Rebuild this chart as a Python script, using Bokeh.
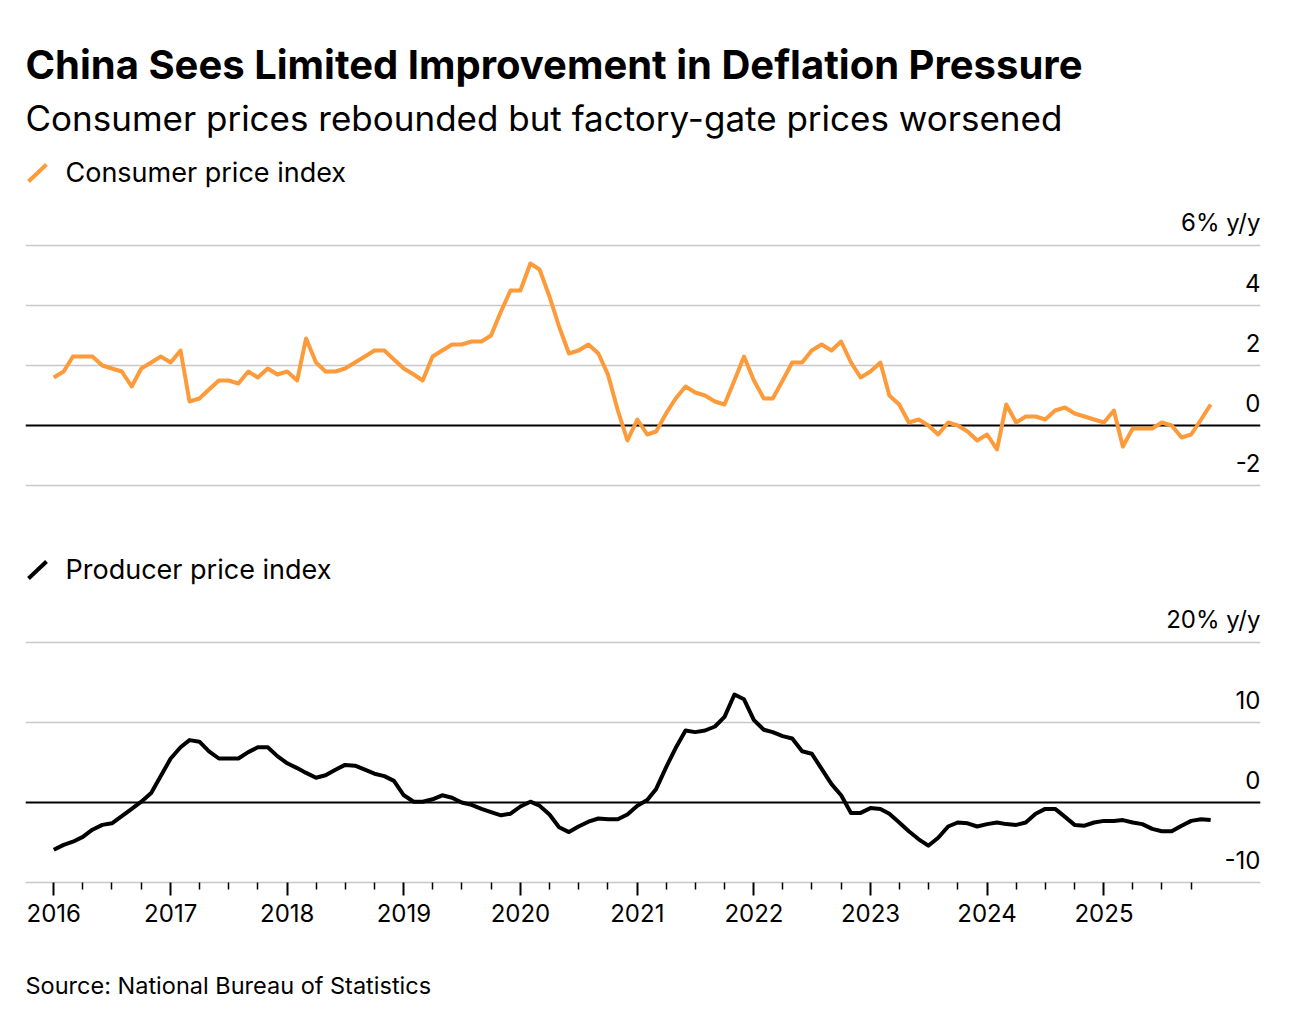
import pandas as pd
from bokeh.plotting import figure
from bokeh.models import (Range1d, FixedTicker, Grid, Label, PolyAnnotation,
                          DatetimeTickFormatter, ColumnDataSource)
from bokeh.layouts import column
from bokeh.embed import file_html
from bokeh.resources import INLINE
from bokeh.core.properties import value

# ---------------- data ----------------
months = pd.period_range("2015-12", "2025-11", freq="M")

cpi = [1.6,
       1.8, 2.3, 2.3, 2.3, 2.0, 1.9, 1.8, 1.3, 1.9, 2.1, 2.3, 2.1,
       2.5, 0.8, 0.9, 1.2, 1.5, 1.5, 1.4, 1.8, 1.6, 1.9, 1.7, 1.8,
       1.5, 2.9, 2.1, 1.8, 1.8, 1.9, 2.1, 2.3, 2.5, 2.5, 2.2, 1.9,
       1.7, 1.5, 2.3, 2.5, 2.7, 2.7, 2.8, 2.8, 3.0, 3.8, 4.5, 4.5,
       5.4, 5.2, 4.3, 3.3, 2.4, 2.5, 2.7, 2.4, 1.7, 0.5, -0.5, 0.2,
       -0.3, -0.2, 0.4, 0.9, 1.3, 1.1, 1.0, 0.8, 0.7, 1.5, 2.3, 1.5,
       0.9, 0.9, 1.5, 2.1, 2.1, 2.5, 2.7, 2.5, 2.8, 2.1, 1.6, 1.8,
       2.1, 1.0, 0.7, 0.1, 0.2, 0.0, -0.3, 0.1, 0.0, -0.2, -0.5, -0.3,
       -0.8, 0.7, 0.1, 0.3, 0.3, 0.2, 0.5, 0.6, 0.4, 0.3, 0.2, 0.1,
       0.5, -0.7, -0.1, -0.1, -0.1, 0.1, 0.0, -0.4, -0.3, 0.2, 0.7]

ppi = [-5.9,
       -5.3, -4.9, -4.3, -3.4, -2.8, -2.6, -1.7, -0.8, 0.1, 1.2, 3.3, 5.5,
       6.9, 7.8, 7.6, 6.4, 5.5, 5.5, 5.5, 6.3, 6.9, 6.9, 5.8, 4.9,
       4.3, 3.7, 3.1, 3.4, 4.1, 4.7, 4.6, 4.1, 3.6, 3.3, 2.7, 0.9,
       0.1, 0.1, 0.4, 0.9, 0.6, 0.0, -0.3, -0.8, -1.2, -1.6, -1.4, -0.5,
       0.1, -0.4, -1.5, -3.1, -3.7, -3.0, -2.4, -2.0, -2.1, -2.1, -1.5, -0.4,
       0.3, 1.7, 4.4, 6.8, 9.0, 8.8, 9.0, 9.5, 10.7, 13.5, 12.9, 10.3,
       9.1, 8.8, 8.3, 8.0, 6.4, 6.1, 4.2, 2.3, 0.9, -1.3, -1.3, -0.7,
       -0.8, -1.4, -2.5, -3.6, -4.6, -5.4, -4.4, -3.0, -2.5, -2.6, -3.0, -2.7,
       -2.5, -2.7, -2.8, -2.5, -1.4, -0.8, -0.8, -1.8, -2.8, -2.9, -2.5, -2.3,
       -2.3, -2.2, -2.5, -2.7, -3.3, -3.6, -3.6, -2.9, -2.3, -2.1, -2.2]

cpi_ticks = [6, 4, 2, 0, -2]
cpi_tick_labels = ["6% y/y", "4", "2", "0", "-2"]
ppi_ticks = [20, 10, 0, -10]
ppi_tick_labels = ["20% y/y", "10", "0", "-10"]
year_ticks = list(range(2016, 2026))
quarter_months = [4, 7, 10]

title_text = "China Sees Limited Improvement in Deflation Pressure"
subtitle_text = "Consumer prices rebounded but factory-gate prices worsened"
cpi_name = "Consumer price index"
ppi_name = "Producer price index"
source_text = "Source: National Bureau of Statistics"

# ---------------- styling ----------------
FONT = "Inter"
ORANGE = "#fd9a3a"
GRID = "#c8c8c8"
W = 1300
TOP_H = 530
BOT_H = 410
SRC_H = 72

EPOCH = pd.Timestamp("1970-01-01")


def to_ms(ts):
    return (ts - EPOCH) // pd.Timedelta(milliseconds=1)


x_dates = months.to_timestamp(how="end")
x_start = pd.Timestamp("2015-10-04 12:00")
x_end = pd.Timestamp("2026-05-06")

src = ColumnDataSource(dict(x=x_dates, cpi=cpi, ppi=ppi))


def make_fig(h, y0, y1, bottom_border, axis_loc):
    p = figure(width=W, height=h, x_axis_type="datetime",
               x_range=Range1d(x_start, x_end), y_range=Range1d(y0, y1),
               x_axis_location=axis_loc, y_axis_location=None,
               toolbar_location=None, output_backend="svg",
               min_border_left=25, min_border_right=40,
               min_border_top=0, min_border_bottom=bottom_border)
    p.outline_line_color = None
    p.background_fill_color = "white"
    p.border_fill_color = "white"
    p.grid.visible = False
    return p


def add_grid(p, ticks):
    p.add_layout(Grid(dimension=1, ticker=FixedTicker(ticks=[t for t in ticks if t != 0]),
                      grid_line_color=GRID, grid_line_width=1.5))
    p.add_layout(Grid(dimension=1, ticker=FixedTicker(ticks=[t for t in ticks if t == 0]),
                      grid_line_color="black", grid_line_width=2))


def add_tick_labels(p, ticks, labels, off):
    p.text(x=[x_end] * len(ticks), y=ticks, text=labels,
           text_align="right", text_baseline="middle", y_offset=off,
           text_font=value(FONT), text_font_size="24px", text_color="black")


def add_legend(p, y_mid, y_mark, name, color):
    p.add_layout(PolyAnnotation(xs=[3, 21], ys=[y_mark, y_mark + 17],
                                xs_units="screen", ys_units="screen",
                                line_color=color, line_alpha=1.0, line_width=4,
                                fill_alpha=0, line_cap="butt"))
    p.add_layout(Label(x=40, y=y_mid, x_units="screen", y_units="screen",
                       text=name, text_font=FONT, text_font_size="27px",
                       text_color="black", text_baseline="middle"))


# ---------------- top panel: CPI ----------------
p1 = make_fig(TOP_H, -3.5, 14.1667, 0, None)
add_grid(p1, cpi_ticks)
p1.line(x="x", y="cpi", source=src, line_color=ORANGE, line_width=4, line_join="round")
add_tick_labels(p1, cpi_ticks, cpi_tick_labels, -23)
p1.add_layout(Label(x=0, y=466, x_units="screen", y_units="screen", text=title_text,
                    text_font=FONT, text_font_size="40px", text_font_style="bold",
                    text_color="black", text_baseline="middle"))
p1.add_layout(Label(x=0, y=413, x_units="screen", y_units="screen", text=subtitle_text,
                    text_font=FONT, text_font_size="35px",
                    text_color="black", text_baseline="middle"))
add_legend(p1, 358, 349, cpi_name, ORANGE)

# ---------------- bottom panel: PPI ----------------
p2 = make_fig(BOT_H, -10, 34, 58, "below")
add_grid(p2, ppi_ticks)
p2.line(x="x", y="ppi", source=src, line_color="black", line_width=4, line_join="round")
add_tick_labels(p2, ppi_ticks, ppi_tick_labels, -23)
add_legend(p2, 313, 304, ppi_name, "black")

ax = p2.xaxis[0]
ax.ticker = FixedTicker(ticks=[to_ms(pd.Timestamp(year=y, month=1, day=1)) for y in year_ticks],
                        minor_ticks=[to_ms(pd.Timestamp(year=y, month=m, day=1))
                                     for y in year_ticks for m in quarter_months])
ax.formatter = DatetimeTickFormatter(microseconds="%Y", milliseconds="%Y", seconds="%Y",
                                     minsec="%Y", minutes="%Y", hourmin="%Y", hours="%Y",
                                     days="%Y", months="%Y", years="%Y")
ax.axis_line_color = GRID
ax.axis_line_width = 1.5
ax.major_tick_line_color = "black"
ax.major_tick_line_width = 2
ax.major_tick_in = 0
ax.major_tick_out = 13
ax.minor_tick_line_color = "black"
ax.minor_tick_line_width = 1.5
ax.minor_tick_in = 0
ax.minor_tick_out = 7
ax.major_label_standoff = 8
ax.major_label_text_font = FONT
ax.major_label_text_font_size = "24px"
ax.major_label_text_color = "black"

# ---------------- source note ----------------
p3 = figure(width=W, height=SRC_H, x_range=Range1d(0, 1), y_range=Range1d(0, 1),
            x_axis_location=None, y_axis_location=None,
            toolbar_location=None, output_backend="svg",
            min_border_left=25, min_border_right=40, min_border_top=0, min_border_bottom=0)
p3.outline_line_color = None
p3.grid.visible = False
p3.add_layout(Label(x=0, y=27, x_units="screen", y_units="screen", text=source_text,
                    text_font=FONT, text_font_size="23.5px",
                    text_color="black", text_baseline="middle"))

layout = column(p1, p2, p3, spacing=0)
open("out.html", "w").write(file_html(layout, INLINE))
